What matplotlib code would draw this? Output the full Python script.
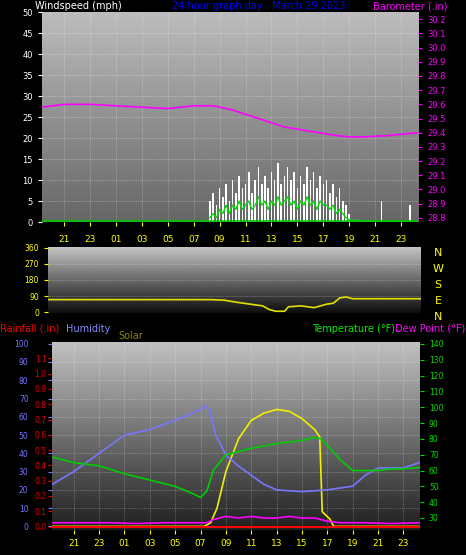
import numpy as np
import matplotlib
matplotlib.use("Agg")
import matplotlib.pyplot as plt

# ---- data (hours relative to local midnight of March 29) ----
xt_labels = ["21","23","01","03","05","07","09","11","13","15","17","19","21","23"]
xt_pos = [-3,-1,1,3,5,7,9,11,13,15,17,19,21,23]

baro_t = [-4.7,-3,-1,1,3,5,7,8.5,10,12,14,16,18,19,20,22,24.3]
baro_v = [29.58,29.60,29.60,29.59,29.58,29.57,29.59,29.59,29.56,29.50,29.44,29.41,29.38,29.37,29.37,29.38,29.40]

gust_t = [8.25,8.5,8.75,9,9.25,9.5,9.75,10,10.25,10.5,10.75,11,11.25,11.5,11.75,12,12.25,12.5,12.75,13,13.25,13.5,13.75,14,14.25,14.5,14.75,15,15.25,15.5,15.75,16,16.25,16.5,16.75,17,17.25,17.5,17.75,18,18.25,18.5,18.75,19,21.5,23.7]
gust_v = [5,7,4,8,6,9,5,10,7,11,8,9,12,7,10,13,9,11,8,12,10,14,9,11,13,10,12,8,11,9,13,10,12,8,11,9,10,7,9,6,8,5,4,2,5,4]
avg_v  = [1,2,1,3,2,4,2,4,3,5,3,4,5,3,4,6,4,5,3,5,4,6,4,5,6,4,5,3,5,4,6,4,5,3,5,4,4,3,4,2,3,2,1,0.5,0,0]

wdir_t = [-4.7,-3,-1,1,3,5,7,8,9,10,11,12,12.5,13,13.7,14,15,16,16.5,17,17.5,18,18.5,19,21,24.3]
wdir_v = [70,70,70,70,70,70,70,70,67,55,45,35,15,5,5,30,35,25,35,45,50,80,85,75,75,75]

hum_t = [-4.7,-3,-1,1,3,5,6,7,7.3,7.7,8.2,9,10,11,12,13,15,17,19,20,21,23,24.3]
hum_v = [23,30,40,50,53,58,61,64,66,64,50,39,33,28,23,20,19,20,22,28,32,32,35]

temp_t = [-4.7,-3,-1,1,3,5,6.5,7,7.5,8,9,10,11,13,15,16,16.5,17,18,19,20,21,22,23,24.3]
temp_v = [68.5,65,63,58,54,50,45,43,47,60,70,72,74,77,79,81,80,76,67,60,60,60,61,61,62]

dew_t = [-4.7,-2,0,2,4,6,7.5,8,9,10,11,12,13,14,15,16,17,18,20,22,24.3]
dew_v = [27,27,27,26.5,27,27,27,29,31,30,31,30,30,31,30,30,28,27,27,26.5,27]

sol_t = [-4.7,7.3,7.8,8.3,9,10,11,12,13,14,15,16,16.4,16.6,17.2,17.5,24.3]
sol_v = [0,0,2,10,30,48,58,62,64,63,59,53,49,8,4,0,0]

rain_t = [-4.7,24.3]
rain_v = [0,0]

XMIN, XMAX = -4.7, 24.3

fig = plt.figure(figsize=(4.66,5.55), dpi=100, facecolor="black")

def grad(ax, top, bot):
    g = np.linspace(0,1,256).reshape(-1,1)
    c0, c1 = np.array(top), np.array(bot)
    img = c0[None,None,:]*(1-g[:,:,None]) + c1[None,None,:]*g[:,:,None]
    ax.imshow(img, extent=[0,1,0,1], transform=ax.transAxes, aspect="auto", zorder=0)

def style(ax):
    for s in ax.spines.values():
        s.set_visible(False)
    ax.tick_params(colors="white", labelsize=6, length=3)

# ---- top panel ----
ax1 = fig.add_axes([0.090,0.600,0.807,0.378])
grad(ax1,(0.74,0.74,0.74),(0.40,0.40,0.40))
ax1.set_xlim(XMIN,XMAX); ax1.set_ylim(0,50)
ax1.set_yticks(range(0,51,5))
ax1.set_xticks(xt_pos); ax1.set_xticklabels(xt_labels)
style(ax1)
ax1.tick_params(axis="x", colors="yellow", labelsize=6.5, pad=6)
ax1.tick_params(axis="y", colors="white", labelcolor="white")
for y in range(5,50,5):
    ax1.axhline(y,color="white",lw=0.5,ls=":",alpha=0.6,zorder=1)
for x in xt_pos:
    ax1.axvline(x,color="white",lw=0.5,ls=":",alpha=0.5,zorder=1)
ax1.bar(gust_t, gust_v, width=0.12, color="white", zorder=3)
ax1.plot(gust_t, avg_v, color="#00dd00", lw=1, zorder=4)
ax1.axhline(0.3,color="#00cc00",lw=1.2,zorder=4)
axb = ax1.twinx()
axb.set_ylim(28.77,30.25)
axb.set_yticks(np.round(np.arange(28.8,30.21,0.1),1))
axb.plot(baro_t, baro_v, color="#ff00ff", lw=1.2)
style(axb)
axb.tick_params(axis="y", colors="#ff00ff", labelcolor="#ff00ff", labelsize=6)
axb.set_xlim(XMIN,XMAX)
fig.text(0.075,0.983,"Windspeed (mph)",color="white",fontsize=7)
fig.text(0.37,0.983,"24 hour graph day : March 29 2023",color="#0000ff",fontsize=7)
fig.text(0.80,0.983,"Barometer (.in)",color="#ff00ff",fontsize=7)

# ---- wind direction ----
ax2 = fig.add_axes([0.103,0.436,0.800,0.119])
grad(ax2,(0.78,0.78,0.78),(0.05,0.05,0.05))
ax2.set_xlim(XMIN,XMAX); ax2.set_ylim(-5,365)
ax2.set_yticks([0,90,180,270,360]); ax2.set_xticks([])
style(ax2)
ax2.tick_params(axis="y", colors="yellow", labelsize=5.5)
for y in [90,180,270]:
    ax2.axhline(y,color="white",lw=0.5,ls=":",alpha=0.5,zorder=1)
ax2.plot(wdir_t, wdir_v, color="#e0e000", lw=1.2, zorder=3)
for i,l in enumerate(["N","W","S","E","N"]):
    fig.text(0.94,0.545-i*0.029,l,color="yellow",fontsize=8,ha="center",va="center")

# ---- bottom panel ----
ax3 = fig.add_axes([0.112,0.045,0.789,0.339])
grad(ax3,(0.76,0.76,0.76),(0.12,0.12,0.12))
ax3.set_xlim(XMIN,XMAX); ax3.set_ylim(-2,101)
ax3.set_yticks(range(0,101,10))
ax3.set_xticks(xt_pos); ax3.set_xticklabels(xt_labels)
style(ax3)
ax3.tick_params(axis="x", colors="yellow", labelsize=6.5)
ax3.tick_params(axis="y", colors="#7777ff", labelsize=5.5, pad=14)
for y in range(10,100,10):
    ax3.axhline(y,color="white",lw=0.5,ls=":",alpha=0.5,zorder=1)
for x in xt_pos:
    ax3.axvline(x,color="white",lw=0.5,ls=":",alpha=0.5,zorder=1)
ax3.plot(sol_t, sol_v, color="#f0f000", lw=1.2, zorder=4)
ax3.plot(hum_t, hum_v, color="#7777ff", lw=1.2, zorder=5)
axr = ax3.twinx()
axr.set_ylim(-0.023,1.208); axr.set_xlim(XMIN,XMAX)
style(axr)
axr.yaxis.set_ticks_position("left")
axr.set_yticks(np.round(np.arange(0,1.11,0.1),1))
axr.tick_params(axis="y", colors="#dd0000", labelsize=5.5, pad=1)
axr.plot(rain_t, rain_v, color="red", lw=1.5, zorder=6)
axt = ax3.twinx()
axt.set_ylim(22.4,141.3); axt.set_xlim(XMIN,XMAX)
style(axt)
axt.set_yticks(range(30,141,10))
axt.tick_params(axis="y", colors="#00dd00", labelsize=5.5)
axt.plot(temp_t, temp_v, color="#00cc00", lw=1.2)
axt.plot(dew_t, dew_v, color="#ff00ff", lw=1.2)
fig.text(0.0,0.402,"Rainfall (.in)",color="red",fontsize=7)
fig.text(0.142,0.402,"Humidity",color="#8888ff",fontsize=7)
fig.text(0.255,0.390,"Solar",color="#888800",fontsize=7)
fig.text(0.67,0.402,"Temperature (°F)",color="#00ee00",fontsize=7)
fig.text(0.848,0.402,"Dew Point (°F)",color="#ff00ff",fontsize=7)

fig.savefig("out.png", dpi=100, facecolor="black")
